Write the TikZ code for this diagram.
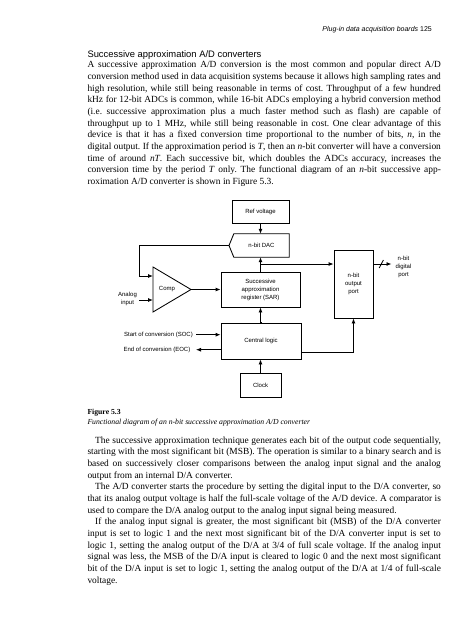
\documentclass[tikz,border=0pt]{standalone}
\usepackage{fontspec}
\setmainfont{Liberation Serif}
\setsansfont{Liberation Sans}
\usetikzlibrary{arrows.meta}
\newcommand\JL[1]{\hbox to 353.4pt{#1}}
\newcommand\LL[1]{\hbox to 353.4pt{#1\hfil}}
\newcommand\bodyfont{\fontsize{9.4pt}{11.67pt}\selectfont\frenchspacing}
\begin{document}
\begin{tikzpicture}[x=1pt,y=-1pt,
  ln/.style={line width=0.85pt, draw=black},
  arr/.style={ln,-{Latex[length=5pt,width=4pt]}},
  lbl/.style={font=\sffamily\fontsize{6pt}{8pt}\selectfont, text=black, align=center, inner sep=0pt},
  blk/.style={ln, lbl, draw},
  txt/.style={inner sep=0pt, anchor=base west}
]
\useasboundingbox (0,0) rectangle (473,640);
\fill[white] (0,0) rectangle (473,640);

% ---------- page text ----------
\node[inner sep=0pt, anchor=base east] (head) at (432,31)
  {\sffamily\fontsize{7pt}{8pt}\selectfont\itshape Plug-in data acquisition boards \upshape 125};
\node[txt] (sect) at (87.3,57)
  {\sffamily\fontsize{9.4pt}{11pt}\selectfont Successive approximation A/D converters};
\node[txt] (par1) at (87.3,67.8) {\vtop{\bodyfont
\JL{A successive approximation A/D conversion is the most common and popular direct A/D}
\JL{conversion method used in data acquisition systems because it allows high sampling rates and}
\JL{high resolution, while still being reasonable in terms of cost. Throughput of a few hundred}
\JL{kHz for 12-bit ADCs is common, while 16-bit ADCs employing a hybrid conversion method}
\JL{(i.e. successive approximation plus a much faster method such as flash) are capable of}
\JL{throughput up to 1 MHz, while still being reasonable in cost. One clear advantage of this}
\JL{device is that it has a fixed conversion time proportional to the number of bits, \textit{n}, in the}
\JL{digital output. If the approximation period is \textit{T}, then an \textit{n}-bit converter will have a conversion}
\JL{time of around \textit{nT}. Each successive bit, which doubles the ADCs accuracy, increases the}
\JL{conversion time by the period \textit{T} only. The functional diagram of an \textit{n}-bit successive app-}
\LL{roximation A/D converter is shown in Figure 5.3.}}};

\node[txt] (figno) at (87.3,414.3)
  {\fontsize{7.7pt}{9pt}\selectfont\bfseries Figure 5.3};
\node[txt] (figcap) at (87.3,424.5)
  {\fontsize{7.7pt}{9pt}\selectfont\itshape Functional diagram of an n-bit successive approximation A/D converter};

\node[txt] (par2) at (87.3,443) {\vtop{\bodyfont
\JL{\hspace*{7.7pt}The successive approximation technique generates each bit of the output code sequentially,}
\JL{starting with the most significant bit (MSB). The operation is similar to a binary search and is}
\JL{based on successively closer comparisons between the analog input signal and the analog}
\LL{output from an internal D/A converter.}
\JL{\hspace*{7.7pt}The A/D converter starts the procedure by setting the digital input to the D/A converter, so}
\JL{that its analog output voltage is half the full-scale voltage of the A/D device. A comparator is}
\LL{used to compare the D/A analog output to the analog input signal being measured.}
\JL{\hspace*{7.7pt}If the analog input signal is greater, the most significant bit (MSB) of the D/A converter}
\JL{input is set to logic 1 and the next most significant bit of the D/A converter input is set to}
\JL{logic 1, setting the analog output of the D/A at 3/4 of full scale voltage. If the analog input}
\JL{signal was less, the MSB of the D/A input is cleared to logic 0 and the next most significant}
\JL{bit of the D/A input is set to logic 1, setting the analog output of the D/A at 1/4 of full-scale}
\LL{voltage.}}};

% ---------- diagram ----------
\node[blk, minimum width=57pt, minimum height=23pt] (ref) at (260.5,211.5) {Ref voltage};
\node[lbl, minimum width=55pt, minimum height=23pt] (dac) at (261.5,245.5) {n-bit DAC};
\coordinate (dactip) at (229,245.5);
\draw[ln] (dac.north west) -- (dactip) -- (dac.south west) -- (dac.south east) -- (dac.north east) -- cycle;
\node[blk, minimum width=79pt, minimum height=35pt] (sar) at (260.5,289.5) {Successive\\approximation\\register (SAR)};
\node[blk, minimum width=80pt, minimum height=36pt] (central) at (261,341) {Central logic};
\node[blk, minimum width=41pt, minimum height=24.5pt] (clock) at (260.5,385.2) {Clock};
\node[blk, minimum width=39pt, minimum height=68pt] (port) at (353.5,284) {n-bit\\output\\port};

% comparator
\coordinate (ctop) at (153,267);
\coordinate (cbot) at (153,312);
\coordinate (cout) at (191,289.5);
\coordinate (cin1) at (153,276);
\coordinate (cin2) at (153,300);
\draw[ln] (ctop) -- (cout) -- (cbot) -- cycle;
\node[lbl] (comp) at (167,289.5) {Comp};

% labels
\node[lbl] (ain) at (127.5,298.5) {Analog\\input};
\node[lbl, anchor=east] (soc) at (193,334.7) {Start of conversion (SOC)};
\node[lbl, anchor=east] (eoc) at (190.5,349.7) {End of conversion (EOC)};
\node[lbl] (dig) at (403.5,266.5) {n-bit\\digital\\port};

% connectors
\coordinate (j) at (260.5,264);
\coordinate (fb) at (139,245.5);
\coordinate (ainstart) at (139,300);
\coordinate (outtip) at (391.5,264);
\draw[arr] (ref.south) -- (ref.south |- dac.north);
\draw[arr] (sar.north) -- (sar.north |- dac.south);
\draw[arr] (j) -- (j -| port.west);
\draw[arr] (dactip) -- (fb) |- (cin1);
\draw[arr] (ainstart) -- (cin2);
\draw[arr] (cout) -- (cout -| sar.west);
\draw[arr] (central.north) -- (central.north -| sar.south) -- (sar.south);
\draw[arr] (clock.north) -- (clock.north |- central.south);
\draw[arr] ([xshift=3pt]soc.east) -- (soc.east -| central.west);
\draw[arr] (eoc.east -| central.west) -- ([xshift=5.5pt]eoc.east);
\draw[arr] ([yshift=-11pt]central.east) -| (port.south);
\draw[arr] (port.east |- j) -- (outtip);
\draw[ln] (379.2,268) -- (383.4,260);
\end{tikzpicture}
\end{document}
